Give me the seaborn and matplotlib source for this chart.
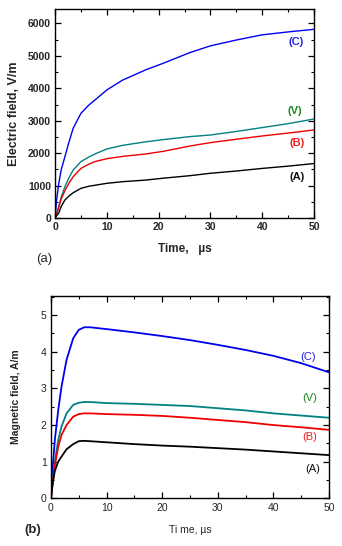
import numpy as np
import pandas as pd
import seaborn as sns
import matplotlib.pyplot as plt
from matplotlib.ticker import MultipleLocator

# (a) electric field, V/m
t_e = [0, 0.3, 0.7, 1.2, 1.9, 2.7, 3.5, 5, 6.5, 7.7, 10, 13, 17.5, 21, 26, 30, 35, 40, 45, 50]
e_c = [0, 555, 1050, 1500, 1890, 2350, 2770, 3230, 3480, 3640, 3950, 4250, 4570, 4780, 5100, 5310, 5490, 5650, 5740, 5820]
e_v = [0, 150, 350, 650, 966, 1250, 1480, 1740, 1880, 1975, 2130, 2240, 2350, 2420, 2510, 2560, 2670, 2790, 2910, 3055]
e_b = [0, 130, 320, 590, 843, 1080, 1275, 1530, 1660, 1740, 1830, 1900, 1975, 2060, 2220, 2325, 2430, 2530, 2620, 2715]
e_a = [0, 70, 150, 360, 555, 680, 780, 915, 980, 1010, 1070, 1120, 1170, 1230, 1305, 1380, 1450, 1530, 1600, 1680]

# (b) magnetic field, A/m
t_h = [0, 0.3, 0.7, 1.3, 1.9, 2.8, 4, 5, 6, 7, 10, 15, 20, 25, 30, 35, 40, 45, 50]
h_c = [0, 0.8, 1.6, 2.4, 3.05, 3.78, 4.37, 4.6, 4.67, 4.67, 4.62, 4.53, 4.43, 4.32, 4.19, 4.05, 3.89, 3.69, 3.44]
h_v = [0, 0.5, 1.0, 1.59, 1.96, 2.32, 2.55, 2.61, 2.63, 2.63, 2.6, 2.58, 2.55, 2.52, 2.46, 2.4, 2.32, 2.26, 2.2]
h_b = [0, 0.4, 0.9, 1.4, 1.73, 2.0, 2.23, 2.3, 2.32, 2.32, 2.3, 2.28, 2.25, 2.2, 2.14, 2.08, 2.0, 1.94, 1.87]
h_a = [0, 0.4, 0.75, 1.0, 1.14, 1.34, 1.48, 1.56, 1.57, 1.56, 1.53, 1.48, 1.44, 1.41, 1.37, 1.33, 1.28, 1.23, 1.18]

labels = ['(C)', '(V)', '(B)', '(A)']
line_colors = ['#0000ee', '#008080', '#ee0000', '#000000']
text_colors = ['#2222dd', '#228822', '#ee2222', '#111111']

sns.set_style("ticks")
plt.rcParams['font.family'] = ['Liberation Sans', 'DejaVu Sans']

fig = plt.figure(figsize=(3.42, 5.46), dpi=100)
ax1 = fig.add_axes([0.161, 0.6007, 0.757, 0.383])
ax2 = fig.add_axes([0.149, 0.0873, 0.813, 0.371])

for y, c in zip([e_c, e_v, e_b, e_a], line_colors):
    sns.lineplot(x=t_e, y=y, color=c, linewidth=1.0, ax=ax1)
for y, c in zip([h_c, h_v, h_b, h_a], line_colors):
    sns.lineplot(x=t_h, y=y, color=c, linewidth=1.3, ax=ax2)

ax1.set_xlim(0, 50)
ax1.set_ylim(0, 6450)
ax1.xaxis.set_major_locator(MultipleLocator(10))
ax1.xaxis.set_minor_locator(MultipleLocator(5))
ax1.yaxis.set_major_locator(MultipleLocator(1000))
ax1.yaxis.set_minor_locator(MultipleLocator(500))

ax2.set_xlim(0, 50)
ax2.set_ylim(0, 5.53)
ax2.xaxis.set_major_locator(MultipleLocator(10))
ax2.xaxis.set_minor_locator(MultipleLocator(5))
ax2.yaxis.set_major_locator(MultipleLocator(1))
ax2.yaxis.set_minor_locator(MultipleLocator(0.5))

for ax in (ax1, ax2):
    for s in ax.spines.values():
        s.set_visible(True)
        s.set_linewidth(1.0)
        s.set_color('black')
    ax.tick_params(which='both', direction='in', top=True, right=True, color='black')
    ax.tick_params(which='major', length=4, width=0.9, pad=3)
    ax.tick_params(which='minor', length=2.5, width=0.8)

ax1.tick_params(labelsize=7.5)
for lab in ax1.get_xticklabels() + ax1.get_yticklabels():
    lab.set_fontweight('bold')
ax2.tick_params(labelsize=7.5)

# panel (a) text
ax1.set_xlabel('Time,   µs', fontsize=8.5, fontweight='bold', labelpad=8)
ax1.set_ylabel('Electric field, V/m', fontsize=9, fontweight='bold', labelpad=6)
for txt, col, (x, y) in zip(labels, text_colors,
                            [(46.5, 5420), (46.3, 3300), (46.7, 2320), (46.7, 1260)]):
    ax1.text(x, y, txt, color=col, fontsize=8, fontweight='bold', ha='center', va='center')
fig.text(0.128, 0.526, '(a)', fontsize=9.5, ha='center', va='center')

# panel (b) text
ax2.set_xlabel('Ti me, µs', fontsize=7.5, labelpad=9)
ax2.set_ylabel('Magnetic field, A/m', fontsize=7.5, fontweight='bold', labelpad=14)
for txt, col, (x, y) in zip(labels, text_colors,
                            [(46.2, 3.86), (46.6, 2.74), (46.6, 1.67), (47.1, 0.8)]):
    ax2.text(x, y, txt, color=col, fontsize=8, ha='center', va='center')
fig.text(0.097, 0.029, '(b)', fontsize=9.5, fontweight='bold', ha='center', va='center')

plt.savefig("out.png", dpi=100)
